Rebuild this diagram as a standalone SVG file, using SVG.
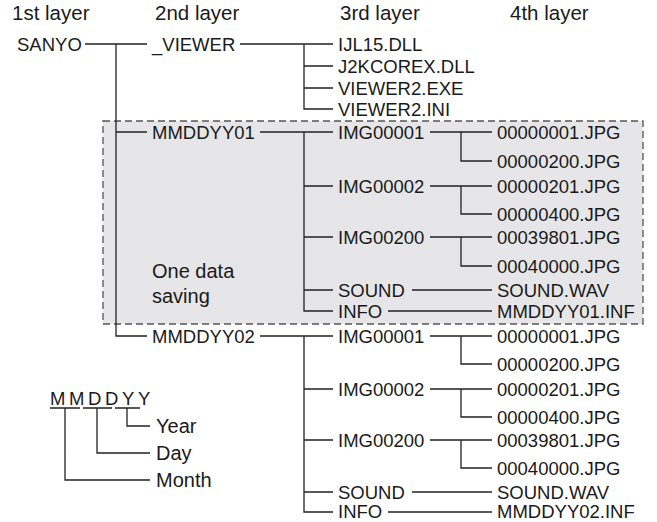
<svg xmlns="http://www.w3.org/2000/svg" width="657" height="522" viewBox="0 0 657 522">
<style>
text{font-family:"Liberation Sans",Arial,sans-serif;font-size:18.5px;fill:#1a1a1a}
.h{font-size:20.5px}
.w{font-size:20px}
.c path{stroke:#222;stroke-width:1.3;fill:none}
.box{fill:#e6e6e8;stroke:#555;stroke-width:1.3;stroke-dasharray:7 4}
</style>
<rect width="657" height="522" fill="#fff"/>
<rect class="box" x="103" y="121" width="540" height="203"/>
<g id="headers">
<text class="h" x="12" y="20">1st layer</text>
<text class="h" x="155" y="20">2nd layer</text>
<text class="h" x="340" y="20">3rd layer</text>
<text class="h" x="510" y="20">4th layer</text>
</g>
<g class="c" id="connectors">
<path d="M85 44H147M116 44V336H147M116 132H147"/>
<path d="M240 44H333M304 44V109H333M304 66H333M304 88H333"/>
<path d="M260 132H333M304 132V311H333M304 186H333M304 237H333M304 290H333"/>
<path d="M430 132H492M461 132V161H492M430 186H492M461 186V214H492M430 237H492M461 237V266H492M412 290H492M388 311H492"/>
<path d="M260 336H333M304 336V512H333M304 389H333M304 440H333M304 492H333"/>
<path d="M430 336H492M461 336V364H492M430 389H492M461 389V417H492M430 440H492M461 440V468H492M412 492H492M388 512H492"/>
<path d="M50 408H80M83 408H112M115 408H140M65 408V480H150M97 408V453H150M127 408V426H150"/>
</g>
<g id="n-sanyo"><text x="17" y="50.5">SANYO</text></g>
<g id="n-viewer"><text x="152" y="50.5">_VIEWER</text></g>
<g id="n-ijl"><text x="338" y="50.5">IJL15.DLL</text></g>
<g id="n-j2k"><text x="338" y="72.5">J2KCOREX.DLL</text></g>
<g id="n-exe"><text x="338" y="94.5">VIEWER2.EXE</text></g>
<g id="n-ini"><text x="338" y="115.5">VIEWER2.INI</text></g>
<g id="n-mm01"><text x="152" y="138.5">MMDDYY01</text></g>
<g id="n-note"><text class="w" x="152" y="278">One data</text><text class="w" x="152" y="303">saving</text></g>
<g id="n-a-img1"><text x="338" y="138.5">IMG00001</text></g>
<g id="n-a-j1"><text x="497" y="138.5">00000001.JPG</text></g>
<g id="n-a-j2"><text x="497" y="167.5">00000200.JPG</text></g>
<g id="n-a-img2"><text x="338" y="192.5">IMG00002</text></g>
<g id="n-a-j3"><text x="497" y="192.5">00000201.JPG</text></g>
<g id="n-a-j4"><text x="497" y="220.5">00000400.JPG</text></g>
<g id="n-a-img3"><text x="338" y="243.5">IMG00200</text></g>
<g id="n-a-j5"><text x="497" y="243.5">00039801.JPG</text></g>
<g id="n-a-j6"><text x="497" y="272.5">00040000.JPG</text></g>
<g id="n-a-sound"><text x="338" y="296.5">SOUND</text></g>
<g id="n-a-wav"><text x="497" y="296.5">SOUND.WAV</text></g>
<g id="n-a-info"><text x="338" y="317.5">INFO</text></g>
<g id="n-a-inf"><text x="497" y="317.5">MMDDYY01.INF</text></g>
<g id="n-mm02"><text x="152" y="342.5">MMDDYY02</text></g>
<g id="n-b-img1"><text x="338" y="342.5">IMG00001</text></g>
<g id="n-b-j1"><text x="497" y="342.5">00000001.JPG</text></g>
<g id="n-b-j2"><text x="497" y="370.5">00000200.JPG</text></g>
<g id="n-b-img2"><text x="338" y="395.5">IMG00002</text></g>
<g id="n-b-j3"><text x="497" y="395.5">00000201.JPG</text></g>
<g id="n-b-j4"><text x="497" y="423.5">00000400.JPG</text></g>
<g id="n-b-img3"><text x="338" y="446.5">IMG00200</text></g>
<g id="n-b-j5"><text x="497" y="446.5">00039801.JPG</text></g>
<g id="n-b-j6"><text x="497" y="474.5">00040000.JPG</text></g>
<g id="n-b-sound"><text x="338" y="498.5">SOUND</text></g>
<g id="n-b-wav"><text x="497" y="498.5">SOUND.WAV</text></g>
<g id="n-b-info"><text x="338" y="518.2">INFO</text></g>
<g id="n-b-inf"><text x="497" y="518.2">MMDDYY02.INF</text></g>
<g id="legend">
<text x="50" y="405" font-size="16" letter-spacing="3.6">MMDDYY</text>
<text class="w" x="156" y="433">Year</text>
<text class="w" x="156" y="460">Day</text>
<text class="w" x="156" y="487">Month</text>
</g>
</svg>
